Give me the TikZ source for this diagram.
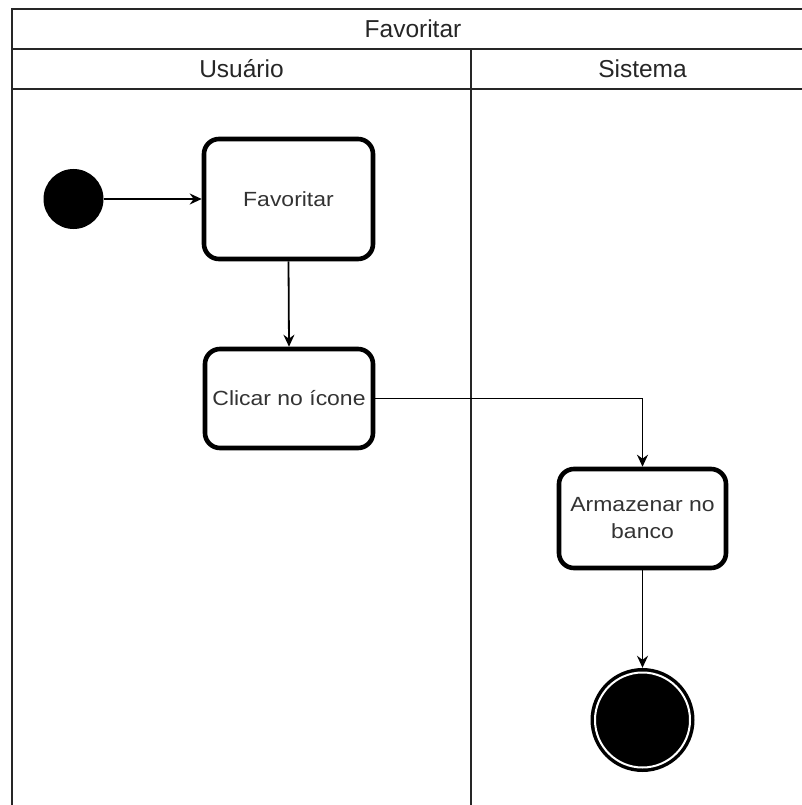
\documentclass[tikz,border=0pt]{standalone}
\usepackage{fontspec}
\setmainfont{Liberation Sans}
\newfontfamily\hdrfont{Liberation Sans}
\newfontfamily\boxfont[FakeStretch=1.12]{Liberation Sans}
\usetikzlibrary{arrows.meta}
\definecolor{txtgray}{HTML}{333333}
\begin{document}
\begin{tikzpicture}[x=1pt,y=-1pt,
  frameline/.style={line width=2.3pt, black!85},
  hdr/.style={font=\hdrfont\fontsize{24.5}{28}\selectfont, text=black!85, inner sep=0pt},
  actbox/.style={draw, line width=4.6pt, rounded corners=15pt, fill=white,
    font=\boxfont\fontsize{20.5}{27}\selectfont, text=txtgray, align=center, inner sep=0pt},
  flow/.style={line width=1.8pt, -{Stealth[length=12pt,width=11pt,inset=4pt]}}]
\useasboundingbox (0,0) rectangle (802,805);
\begin{scope}
\clip (0,0) rectangle (802,805);
\draw[frameline] (12,805) -- (12,9) -- (820,9);
\draw[frameline] (12,49) -- (820,49);
\draw[frameline] (12,89) -- (820,89);
\draw[frameline] (471,49) -- (471,805);
\end{scope}
\node[hdr] (title) at (413,29) {Favoritar};
\node[hdr] (lane1) at (241.5,69) {Usuário};
\node[hdr] (lane2) at (642.5,69) {Sistema};

\node[circle, fill=black, minimum size=60pt, inner sep=0pt] (start) at (73.5,199) {};
\node[actbox, minimum width=169pt, minimum height=120pt] (fav) at (288.5,199) {Favoritar};
\node[actbox, minimum width=168pt, minimum height=99pt] (cli) at (289,398.5) {Clicar no ícone};
\node[actbox, minimum width=167pt, minimum height=99pt] (arm) at (642.5,518.5) {Armazenar no\\banco};
\node[circle, fill=black, minimum size=104pt, inner sep=0pt] (fim) at (642.5,720) {};
\draw[white, line width=2pt] (fim.center) circle (47.5);

\draw[flow] (start) -- (fav.west);
\draw[flow] (fav.south) -- (cli.north);
\draw[flow] (cli.east) -| (arm.north);
\draw[flow] (arm.south) -- (fim.north);
\end{tikzpicture}
\end{document}
